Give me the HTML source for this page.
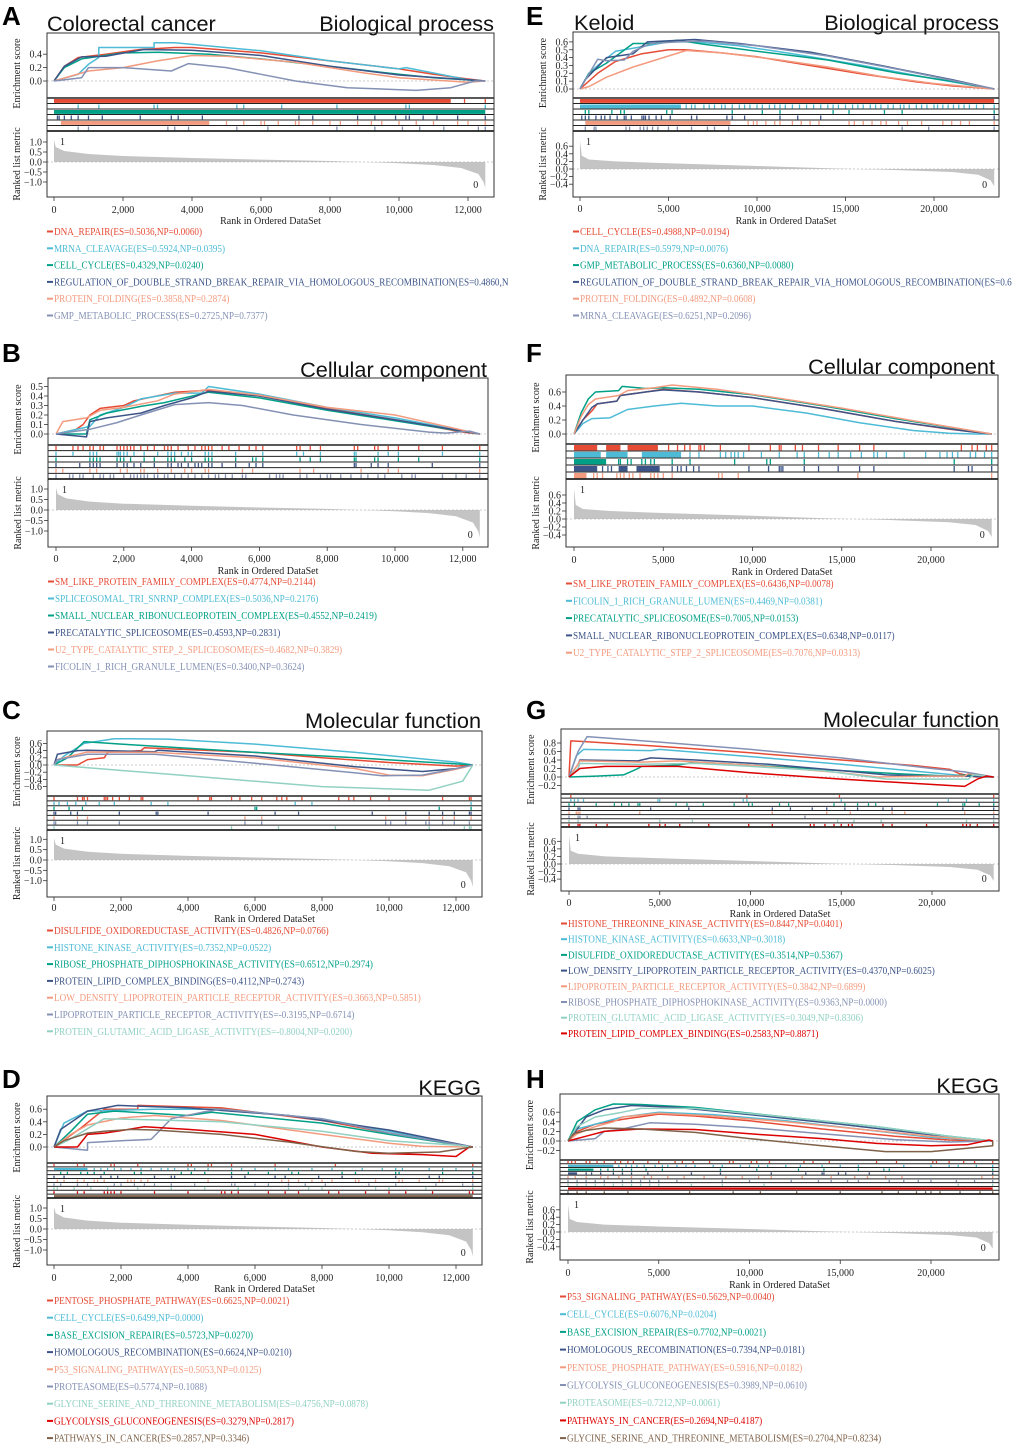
<!DOCTYPE html>
<html><head><meta charset="utf-8"><style>
html,body{margin:0;padding:0;background:#fff;}
svg{display:block;}
.tk{font-family:"Liberation Serif",serif;font-size:10px;fill:#222;}
.ttl{font-family:"Liberation Sans",sans-serif;font-size:21.7px;fill:#111;}
.let{font-family:"Liberation Sans",sans-serif;font-size:26px;font-weight:bold;fill:#000;}
.leg{font-family:"Liberation Serif",serif;font-size:10px;}
</style></head><body>
<svg id="chart" width="1020" height="1448" viewBox="0 0 1020 1448" xmlns="http://www.w3.org/2000/svg"></svg>
<script>
const COLORS=['#e64b35','#4dbbd5','#00a087','#3c5488','#f39b7f','#8491b4','#91d1c2','#dc0000','#7e6148'];

/* ---------- Panel A data ---------- */
const A_names=['DNA_REPAIR(ES=0.5036,NP=0.0060)','MRNA_CLEAVAGE(ES=0.5924,NP=0.0395)','CELL_CYCLE(ES=0.4329,NP=0.0240)','REGULATION_OF_DOUBLE_STRAND_BREAK_REPAIR_VIA_HOMOLOGOUS_RECOMBINATION(ES=0.4860,N','PROTEIN_FOLDING(ES=0.3858,NP=0.2874)','GMP_METABOLIC_PROCESS(ES=0.2725,NP=0.7377)'];
const A_es=[
[[0,0],[0.3,0.22],[0.7,0.35],[1.5,0.4],[2.5,0.47],[3.5,0.5],[4,0.5],[6,0.42],[8,0.3],[10,0.18],[11,0.1],[12,0.03],[12.5,0]],
[[0,0],[0.7,0.1],[1,0.25],[1.3,0.35],[1.3,0.5],[2.9,0.5],[2.9,0.57],[3.5,0.57],[6,0.45],[8,0.3],[10,0.18],[10.2,0.2],[12,0.02],[12.5,0]],
[[0,0],[0.3,0.2],[0.8,0.33],[2,0.42],[3,0.43],[4.5,0.4],[6,0.33],[8,0.22],[10,0.1],[11,0.05],[12.5,0]],
[[0,0],[0.3,0.22],[0.8,0.36],[1.5,0.37],[2.6,0.47],[4,0.46],[6,0.38],[8,0.22],[10,0.09],[10.5,0.07],[12,0.02],[12.5,0]],
[[0,0],[1,0.15],[2,0.2],[3,0.3],[4,0.38],[5,0.37],[7,0.28],[9,0.12],[10,0.05],[12,-0.02],[12.5,0]],
[[0,0],[0.8,0.05],[1,0.2],[2,0.2],[3.4,0.15],[3.9,0.26],[5,0.2],[6,0.1],[7,0],[8.5,-0.1],[10.5,-0.14],[11.5,-0.1],[12.2,0],[12.5,0]]];
const A_hits=[
{b:[[0,11.5]],t:[11.9,12.5]},
{t:[0.7,1.3,2.9,3.0,5.3,5.5,6.6,8.2,10.2,10.3,12.5]},
{b:[[0,12.5]]},
{t:[0.1,0.15,0.3,0.5,0.7,1.0,1.4,2.5,3.4,3.6,4.3,7.1,7.5,8.8,9.3,9.9,10.2,10.3,10.7,11.1,11.7,12.5]},
{b:[[0.2,4.5]],t:[5,5.5,6,6.1,6.5,7,7.1,7.5,8,8.3,8.8,9.2,9.5,10,10.5,11,11.7,12,12.5]},
{t:[0.7,1.0,3.3,3.5,3.9,5.3,6.2,8.2,9.3,10.1,10.6,11.3,12.3,12.5]}];
const A_metric=[[0,1.1],[0.05,0.75],[0.3,0.55],[1,0.4],[2,0.3],[4,0.2],[6,0.12],[8,0.05],[9,0],[10,-0.06],[11,-0.15],[11.8,-0.3],[12.3,-0.6],[12.45,-1.0],[12.5,-1.3]];
const A_esTicks=[0,0.2,0.4];
const A_mTicks=[1,0.5,0,-0.5,-1];
const A_xTicks=[0,2,4,6,8,10,12];

/* ---------- Panel E data ---------- */
const E_names=['CELL_CYCLE(ES=0.4988,NP=0.0194)','DNA_REPAIR(ES=0.5979,NP=0.0076)','GMP_METABOLIC_PROCESS(ES=0.6360,NP=0.0080)','REGULATION_OF_DOUBLE_STRAND_BREAK_REPAIR_VIA_HOMOLOGOUS_RECOMBINATION(ES=0.6','PROTEIN_FOLDING(ES=0.4892,NP=0.0608)','MRNA_CLEAVAGE(ES=0.6251,NP=0.2096)'];
const E_es=[
[[0,0],[1,0.2],[2,0.35],[3.5,0.45],[5,0.5],[6,0.5],[8,0.46],[10,0.41],[13,0.3],[16,0.19],[19,0.09],[21,0.04],[23.4,0]],
[[0,0],[0.5,0.2],[1,0.3],[2,0.48],[3,0.52],[5,0.6],[6.5,0.6],[9,0.55],[12,0.45],[16,0.3],[20,0.13],[23.4,0]],
[[0,0],[0.5,0.2],[1.5,0.33],[3,0.58],[4,0.58],[5.5,0.62],[7,0.57],[10,0.48],[14,0.37],[18,0.2],[21,0.1],[23.4,0]],
[[0,0],[0.3,0.12],[1.5,0.4],[3,0.45],[3.8,0.6],[6.5,0.63],[9,0.58],[13,0.47],[17,0.3],[21,0.12],[23.4,0]],
[[0,0],[0.5,0.03],[1.5,0.15],[3,0.28],[4,0.35],[5,0.42],[6,0.49],[8,0.46],[11,0.38],[14,0.28],[17,0.16],[20,0.07],[23.4,0]],
[[0,0],[1,0.38],[1.5,0.36],[2.5,0.37],[3,0.48],[4,0.58],[5.5,0.6],[7,0.61],[10,0.55],[14,0.42],[18,0.25],[23.4,0]]];
const E_hits=[
{b:[[0,23.4]]},
{b:[[0,5.7]],t:[6,6.3,6.5,7,7.3,7.6,8,8.2,8.6,9,9.3,9.6,10,10.3,10.7,11,11.3,11.6,12,12.4,12.8,13.2,13.6,14,14.3,14.6,15,15.4,15.7,16,16.4,16.7,17,17.4,17.7,18.1,18.3,18.6,19,19.3,19.6,20,20.2,20.5,20.8,21.1,21.4,21.7,22,22.4,22.8,23.4]},
{t:[0.3,0.5,1.8,2.3,2.5,4.9,5.2,8.6,10.3,11.3,14.3,15.2,17.2,18.2,23.4]},
{t:[0.1,0.3,0.5,0.9,1.2,1.4,1.7,2.1,2.5,2.6,2.9,3.5,3.6,3.7,3.9,4.3,4.6,5.1,6.3,6.6,8.3,8.6,9.3,11.3,12.3,13.6,23.4]},
{b:[[0.3,8.5]],t:[9.5,9.8,10,10.5,11,11.3,12,12.5,13,13.5,15.2,15.5,16,16.5,17,17.3,18,18.5,19.3,20.5,21,21.5,22,23.4]},
{t:[0.3,0.8,0.9,2.6,2.8,3.4,3.6,3.8,4.1,4.4,5,5.5,6.3,7.2,7.6,8.4,18.2,19.7,23.4]}];
const E_metric=[[0,0.75],[0.1,0.35],[0.5,0.25],[2,0.2],[5,0.15],[10,0.08],[14,0.02],[18,-0.03],[21,-0.08],[22.5,-0.15],[23.2,-0.3],[23.4,-0.45]];
const E_esTicks=[0,0.1,0.2,0.3,0.4,0.5,0.6];
const E_mTicks=[0.6,0.4,0.2,0,-0.2,-0.4];
const E_xTicks=[0,5,10,15,20];

/* ---------- Panel B data ---------- */
const B_names=['SM_LIKE_PROTEIN_FAMILY_COMPLEX(ES=0.4774,NP=0.2144)','SPLICEOSOMAL_TRI_SNRNP_COMPLEX(ES=0.5036,NP=0.2176)','SMALL_NUCLEAR_RIBONUCLEOPROTEIN_COMPLEX(ES=0.4552,NP=0.2419)','PRECATALYTIC_SPLICEOSOME(ES=0.4593,NP=0.2831)','U2_TYPE_CATALYTIC_STEP_2_SPLICEOSOME(ES=0.4682,NP=0.3829)','FICOLIN_1_RICH_GRANULE_LUMEN(ES=0.3400,NP=0.3624)'];
const B_es=[
[[0,0],[0.6,0.05],[0.8,0.1],[1,0.2],[1.3,0.27],[2,0.3],[2.3,0.35],[3.5,0.44],[4.5,0.46],[6,0.4],[8,0.27],[10,0.15],[12,0.02],[12.5,0]],
[[0,0],[1,0.08],[1.3,0.2],[2,0.28],[2.5,0.37],[3.5,0.43],[4.3,0.43],[4.5,0.5],[6,0.42],[8,0.28],[10,0.17],[12.5,0]],
[[0,0],[0.9,0],[1,0.15],[1.5,0.22],[2.5,0.29],[3.2,0.33],[4.5,0.44],[6,0.38],[8,0.25],[10,0.14],[12.5,0]],
[[0,0],[0.9,-0.03],[1,0.13],[1.5,0.17],[2.5,0.22],[3.2,0.3],[4,0.38],[4.5,0.45],[6,0.4],[8,0.26],[10,0.15],[12.5,0]],
[[0,0],[0.2,0.13],[0.9,0.17],[1.3,0.25],[2,0.28],[3,0.35],[3.5,0.42],[4.5,0.47],[6,0.41],[8,0.28],[10,0.2],[12,0.04],[12.5,0]],
[[0,0],[1,0.05],[1.8,0.12],[2.5,0.2],[3.5,0.31],[4.5,0.33],[5.5,0.3],[7,0.2],[9,0.1],[11,0.02],[11.5,0.01],[12.2,0.03],[12.5,0]]];
const B_hits=[
{t:[0,0.5,0.65,0.8,1,1.1,1.3,1.4,1.8,1.9,2,2.1,2.2,2.3,2.5,2.7,2.9,3.2,3.3,3.4,3.6,3.9,4.1,4.3,4.4,4.5,4.6,4.9,5.1,5.4,5.7,5.9,6.1,7.1,7.2,7.5,7.8,8.8,8.9,9.4,9.5,9.8,10.1,10.7,11.4,12.5]},
{t:[0,0.5,1,1.1,1.2,1.8,1.85,1.9,2,2.1,2.3,2.6,3.0,3.3,3.4,3.5,3.7,3.9,4,4.4,4.5,4.6,5.3,6.1,7.1,7.3,7.8,8.8,8.85,9.5,9.8,10.1,11.4,12.5]},
{t:[0,1,1.1,1.2,1.3,1.8,1.9,2,2.2,2.6,2.9,3.3,3.4,3.5,3.8,4,4.4,4.5,4.6,5.3,5.8,5.9,6.1,7.2,7.5,7.8,8.8,8.85,9.4,9.5,10.1,10.7,12.5]},
{t:[0,0.7,1,1.1,1.2,1.3,1.8,2,2.1,2.3,2.5,2.9,3.3,3.4,3.6,3.7,3.9,4.1,4.2,4.3,4.5,4.6,4.9,5.3,5.7,5.9,6.1,8.8,8.85,9.3,9.5,9.8,11.1,12.5]},
{t:[0,0.2,1,1.2,1.9,2.1,2.5,2.6,3,3.4,3.8,4,4.4,4.5,5.5,5.8,7.2,7.6,9,9.8,10.1,12.5]},
{t:[0,0.4,0.5,0.7,0.8,1.1,1.3,1.4,1.6,1.7,2,2.2,2.3,2.4,2.5,2.6,2.7,2.9,3,3.2,3.3,3.5,3.7,3.9,4.1,4.3,4.5,4.7,4.8,5,5.2,5.5,5.6,6.3,6.5,6.6,6.7,7.2,7.4,7.8,8,8.1,8.4,8.7,9,9.2,9.5,9.7,10.2,10.5,10.6,11.4,11.8,12.1,12.5]}];
const B_metric=[[0,1.05],[0.05,0.75],[0.3,0.55],[1,0.4],[2,0.3],[4,0.2],[6,0.12],[8,0.05],[9,0],[10,-0.06],[11,-0.15],[11.8,-0.3],[12.3,-0.6],[12.45,-1.0],[12.5,-1.3]];
const B_esTicks=[0,0.1,0.2,0.3,0.4,0.5];
const B_mTicks=[1,0.5,0,-0.5,-1];
const B_xTicks=[0,2,4,6,8,10,12];

/* ---------- Panel F data ---------- */
const F_names=['SM_LIKE_PROTEIN_FAMILY_COMPLEX(ES=0.6436,NP=0.0078)','FICOLIN_1_RICH_GRANULE_LUMEN(ES=0.4469,NP=0.0381)','PRECATALYTIC_SPLICEOSOME(ES=0.7005,NP=0.0153)','SMALL_NUCLEAR_RIBONUCLEOPROTEIN_COMPLEX(ES=0.6348,NP=0.0117)','U2_TYPE_CATALYTIC_STEP_2_SPLICEOSOME(ES=0.7076,NP=0.0313)'];
const F_es=[
[[0,0],[0.5,0.2],[1,0.33],[1.3,0.43],[2.4,0.47],[2.6,0.55],[4,0.6],[5,0.64],[7,0.6],[10,0.52],[14,0.36],[18,0.18],[21,0.07],[23.4,0]],
[[0,0],[0.5,0.15],[1,0.22],[2,0.23],[3,0.35],[4.5,0.4],[6,0.44],[8,0.4],[10,0.4],[13,0.3],[16,0.16],[19,0.05],[21,0.01],[22.5,0],[23.4,0]],
[[0,0],[0.4,0.3],[0.8,0.5],[1.2,0.6],[2.5,0.62],[2.7,0.68],[4,0.65],[5,0.66],[7,0.64],[10,0.56],[14,0.4],[18,0.22],[23.4,0]],
[[0,0],[0.5,0.2],[1,0.38],[1.3,0.43],[2.4,0.47],[2.6,0.55],[4,0.6],[5,0.63],[7,0.6],[10,0.52],[14,0.36],[18,0.18],[22,0.04],[23.4,0]],
[[0,0],[0.4,0.25],[0.8,0.42],[1.2,0.5],[2.5,0.55],[3,0.62],[4.5,0.66],[5.5,0.7],[8,0.64],[11,0.53],[15,0.37],[19,0.19],[23.4,0]]];
const F_hits=[
{b:[[0,1.3],[1.8,2.6],[3,4.7]],t:[5.3,5.8,6.2,6.5,7,7.1,7.3,8.2,9.8,11,11.5,11.6,12.4,12.8,13.7,14.8,16,16.8,21.7,22.3,22.6,23.1,23.4]},
{b:[[0,1.5],[1.8,3],[3.8,6]],t:[6.5,7,8.2,8.5,8.8,9,9.2,9.5,10.5,11.5,12.5,12.9,13.7,14.3,14.8,15.5,16.1,16.8,17,17.5,18.5,19.7,20.5,20.9,21.2,21.5,22.2,22.5,23,23.4]},
{b:[[0,1.8]],t:[2.5,2.6,3,3.2,3.8,4,4.3,4.5,5.5,6.5,9,10.8,11,12.9,21.3,23.4]},
{b:[[0,1.3],[2.5,3.0],[3.5,4.8]],t:[1.6,1.9,2.1,5.5,5.8,6,6.3,6.7,7,9.8,10.9,11.5,11.6,11.7,12.9,13.7,14.8,16,16.8,21.3,22.1,22.3,23.4]},
{b:[[0,0.7]],t:[1.1,1.3,1.6,2.4,2.6,2.8,3.1,3.3,3.7,4.3,4.5,4.7,5,5.5,8.1,8.3,9.2,15.9,23.4]}];
const F_metric=[[0,0.75],[0.1,0.35],[0.5,0.25],[2,0.2],[5,0.15],[10,0.08],[14,0.02],[18,-0.03],[21,-0.08],[22.5,-0.15],[23.2,-0.3],[23.4,-0.45]];
const F_esTicks=[0,0.2,0.4,0.6];
const F_mTicks=[0.6,0.4,0.2,0,-0.2,-0.4];
const F_xTicks=[0,5,10,15,20];

/* ---------- Panel C data ---------- */
const C_names=['DISULFIDE_OXIDOREDUCTASE_ACTIVITY(ES=0.4826,NP=0.0766)','HISTONE_KINASE_ACTIVITY(ES=0.7352,NP=0.0522)','RIBOSE_PHOSPHATE_DIPHOSPHOKINASE_ACTIVITY(ES=0.6512,NP=0.2974)','PROTEIN_LIPID_COMPLEX_BINDING(ES=0.4112,NP=0.2743)','LOW_DENSITY_LIPOPROTEIN_PARTICLE_RECEPTOR_ACTIVITY(ES=0.3663,NP=0.5851)','LIPOPROTEIN_PARTICLE_RECEPTOR_ACTIVITY(ES=-0.3195,NP=0.6714)','PROTEIN_GLUTAMIC_ACID_LIGASE_ACTIVITY(ES=-0.8004,NP=0.0200)'];
const C_es=[
[[0,0],[0.7,0],[1,0.15],[1.5,0.2],[1.6,0.35],[2.6,0.4],[2.7,0.48],[6,0.35],[8,0.2],[10,0.07],[12,-0.03],[12.5,0]],
[[0,0],[0.3,0.25],[0.9,0.6],[1.8,0.73],[3.4,0.72],[6,0.58],[9,0.35],[12,0.08],[12.5,0]],
[[0,0],[0.4,0.2],[0.9,0.65],[2,0.58],[6,0.35],[9,0.2],[12.2,0.02],[12.5,0]],
[[0,0],[0.1,0.3],[0.7,0.4],[1,0.41],[3,0.37],[3.1,0.41],[6,0.25],[9,-0.05],[11,-0.18],[12,-0.1],[12.5,0]],
[[0,0],[0.1,0.15],[0.5,0.25],[1,0.36],[3,0.35],[6,0.2],[9,-0.1],[10,-0.28],[11,-0.3],[12,-0.12],[12.5,0]],
[[0,0],[0.1,0.15],[1,0.3],[3,0.3],[6,0.05],[9,-0.22],[9.8,-0.3],[11,-0.28],[12,-0.1],[12.5,0]],
[[0,0],[4,-0.3],[8,-0.6],[11.2,-0.7],[12.2,-0.45],[12.5,0]]];
const C_hits=[
{t:[0,0.7,0.85,0.9,1,1.5,1.55,1.6,1.75,1.95,2.25,2.6,2.65,4.3,4.65,4.7,5.3,5.55,5.9,6.2,6.65,6.8,6.95,7.4,8.5,8.8,8.95,9.45,10,11.6,12.4,12.45]},
{t:[0,0.15,0.4,0.65,0.95,1.35,1.8,2.9,3.4,7.2,7.7,12.45]},
{t:[0,0.45,0.85,6.0,6.05,11.5,12.45]},
{t:[0,0.05,0.5,0.7,1.95,3.05,3.1,4.6,6.6,7.3,9.5,10.5,11.2,11.6,11.95,12.4,12.45]},
{t:[0,0.7,1.0,5.7,6.2,9.9,10.5,11.2,11.6,11.95,12.45]},
{t:[0,0.05,0.7,1.0,1.95,5.7,6.2,9.9,10.05,10.5,11.1,11.2,11.6,11.95,12.4]},
{t:[0,5.3,6.7,8.4,11.2,12.25,12.4,12.45]}];
const C_metric=[[0,1.05],[0.05,0.75],[0.3,0.55],[1,0.4],[2,0.3],[4,0.2],[6,0.12],[8,0.05],[9,0],[10,-0.06],[11,-0.15],[11.8,-0.3],[12.3,-0.6],[12.45,-1.0],[12.5,-1.3]];
const C_esTicks=[-0.6,-0.4,-0.2,0,0.2,0.4,0.6];
const C_mTicks=[1,0.5,0,-0.5,-1];
const C_xTicks=[0,2,4,6,8,10,12];

/* ---------- Panel G data ---------- */
const G_names=['HISTONE_THREONINE_KINASE_ACTIVITY(ES=0.8447,NP=0.0401)','HISTONE_KINASE_ACTIVITY(ES=0.6633,NP=0.3018)','DISULFIDE_OXIDOREDUCTASE_ACTIVITY(ES=0.3514,NP=0.5367)','LOW_DENSITY_LIPOPROTEIN_PARTICLE_RECEPTOR_ACTIVITY(ES=0.4370,NP=0.6025)','LIPOPROTEIN_PARTICLE_RECEPTOR_ACTIVITY(ES=0.3842,NP=0.6899)','RIBOSE_PHOSPHATE_DIPHOSPHOKINASE_ACTIVITY(ES=0.9363,NP=0.0000)','PROTEIN_GLUTAMIC_ACID_LIGASE_ACTIVITY(ES=0.3049,NP=0.8306)','PROTEIN_LIPID_COMPLEX_BINDING(ES=0.2583,NP=0.8871)'];
const G_es=[
[[0,0],[0.1,0.85],[1,0.83],[5,0.72],[10,0.57],[15,0.4],[19,0.27],[21,0.18],[21.5,0.08],[22.4,0],[23.4,0]],
[[0,0],[0.4,0.5],[0.8,0.65],[4.5,0.62],[5,0.65],[10,0.48],[15,0.3],[20,0.1],[22,0.02],[23.4,0]],
[[0,0],[1.5,0.02],[3,0.05],[3.8,0.2],[4,0.25],[6,0.28],[7,0.35],[10,0.28],[15,0.15],[18,0.08],[21,0.02],[22,0.05],[23.4,0]],
[[0,0],[0.5,0.3],[0.6,0.4],[3.8,0.38],[4.5,0.45],[7,0.4],[11,0.3],[15,0.15],[17.5,0.05],[20,0.02],[22,0.02],[23.4,0]],
[[0,0],[0.5,0.3],[0.6,0.38],[4,0.35],[6,0.38],[10,0.28],[15,0.1],[17,0],[20,0.02],[21.8,0.02],[22,0.08],[23.4,0]],
[[0,0],[0.5,0.6],[1,0.95],[5,0.82],[10,0.65],[15,0.45],[20,0.2],[21.8,0.12],[23.4,0]],
[[0,0],[0.5,0.2],[0.6,0.32],[4,0.3],[7,0.32],[10,0.25],[14,0.15],[17.5,-0.05],[22,-0.05],[22.3,0.05],[23.4,0]],
[[0,0],[0.6,0.2],[2,0.25],[3,0.25],[6,0.25],[10,0.1],[15,-0.05],[19,-0.15],[21.8,-0.22],[22.5,-0.05],[23,0.02],[23.4,0]]];
const G_hits=[
{t:[0.1,9.8,14.9,23.4]},
{t:[0.1,0.3,0.5,0.8,4.9,5,9.6,9.8,15,20.9,21.9,23.4]},
{t:[0,0.3,1.5,2.5,2.9,3.3,3.8,3.9,5.9,6.5,7.4,9.1,9.9,10.1,11.6,12.1,14.6,15.2,15.9,16.5,16.9,20.3,21.7,21.8,22.6,23.4]},
{t:[0,0.5,0.6,4.5,6.6,11.2,12.2,13.4,14.2,15.2,15.9,17.3,17.8,21.7,23.4]},
{t:[0,0.4,0.5,0.6,3.9,11.2,14.2,15.5,17.8,18.5,21.8,23.4]},
{t:[0,0.5,0.6,1,13,23.4]},
{t:[0,0.5,5,6.8,14.8,15.7,17.2,21.9,23.4]},
{t:[0,0.5,0.6,1.5,2.1,4.4,5,5.3,6.1,7.7,9.9,11.2,13.3,13.5,14.1,14.6,15,15.4,15.6,17.3,17.8,19.7,21.7,21.9,22.1,22.5,23.4]}];
const G_metric=[[0,0.75],[0.1,0.35],[0.5,0.27],[2,0.2],[5,0.15],[10,0.08],[14,0.02],[18,-0.03],[21,-0.08],[22.5,-0.15],[23.2,-0.3],[23.4,-0.45]];
const G_esTicks=[-0.2,0,0.2,0.4,0.6,0.8];
const G_mTicks=[0.6,0.4,0.2,0,-0.2,-0.4];
const G_xTicks=[0,5,10,15,20];

/* ---------- Panel D data ---------- */
const D_names=['PENTOSE_PHOSPHATE_PATHWAY(ES=0.6625,NP=0.0021)','CELL_CYCLE(ES=0.6499,NP=0.0000)','BASE_EXCISION_REPAIR(ES=0.5723,NP=0.0270)','HOMOLOGOUS_RECOMBINATION(ES=0.6624,NP=0.0210)','P53_SIGNALING_PATHWAY(ES=0.5053,NP=0.0125)','PROTEASOME(ES=0.5774,NP=0.1088)','GLYCINE_SERINE_AND_THREONINE_METABOLISM(ES=0.4756,NP=0.0878)','GLYCOLYSIS_GLUCONEOGENESIS(ES=0.3279,NP=0.2817)','PATHWAYS_IN_CANCER(ES=0.2857,NP=0.3346)'];
const D_es=[
[[0,0],[0.8,0.3],[1.5,0.6],[2.5,0.6],[2.5,0.66],[5,0.62],[8,0.42],[10,0.22],[12,0.05],[12.5,0]],
[[0,0],[0.3,0.38],[1,0.57],[3,0.6],[5,0.6],[8,0.45],[10,0.25],[12,0.05],[12.5,0]],
[[0,0],[0.5,0.25],[1,0.52],[1.8,0.57],[4,0.5],[4.7,0.55],[8,0.38],[10,0.2],[12,0.04],[12.5,0]],
[[0,0],[0.2,0.28],[1,0.57],[1.9,0.66],[4,0.62],[7,0.5],[10,0.27],[12.5,0]],
[[0,0],[0.5,0.2],[1,0.35],[2,0.46],[3,0.5],[5,0.42],[8,0.2],[10,0.06],[11,0.01],[12.5,0]],
[[0,0],[1,-0.05],[1,0.07],[2,0.1],[2.9,0.12],[3.5,0.45],[4.5,0.56],[5,0.6],[8,0.45],[10,0.22],[12.5,0]],
[[0,0],[0.4,0.1],[1.5,0.45],[3,0.43],[5,0.4],[8,0.25],[10,0.1],[12,0.03],[12.5,0]],
[[0,0],[0.7,0],[1,0.2],[1.5,0.22],[2,0.26],[2.7,0.32],[4,0.28],[6,0.2],[8,0],[9.5,-0.1],[11,-0.12],[12,-0.15],[12.4,0],[12.5,0]],
[[0,0],[0.3,0.1],[1,0.22],[1.5,0.25],[2.3,0.28],[3,0.27],[5,0.2],[7,0.08],[9,-0.07],[10,-0.1],[11.5,-0.08],[12.5,0]]];
const D_hits=[
{t:[0,0.7,0.9,1.7,1.8,2.5,4,4.1,4.6,4.7,5.3,6.6,8.4,12.5]},
{b:[[0,1.0]],t:[1.2,1.4,1.6,1.8,2,2.3,2.6,2.9,3.2,3.4,3.6,4,4.2,4.6,5.3,5.6,6,6.6,7,7.7,8.3,9.2,9.8,10.2,10.4,11.2,11.6,12,12.5]},
{t:[0.2,0.4,0.8,1,1.2,1.5,2.4,2.6,3.8,4.1,4.5,5.3,5.8,6.4,7.1,7.3,8.6,9,10.2,10.3,11.6,12.5]},
{t:[0,0.3,1.4,1.7,1.9,3,3.5,3.6,5.3,5.7,6.6,6.9,7.9,8.6,10.2,11.2,11.5,12.5]},
{t:[0.1,0.3,0.7,0.9,1.2,1.3,1.5,2.2,2.3,2.4,2.6,2.8,4.6,6.8,7,7.3,7.7,8,8.3,9,9.1,9.6,10.3,10.4,10.9,11.5,11.6,12.5]},
{t:[0,0.2,0.7,1,1.8,2,2.4,2.7,3,3.5,4.2,5.3,5.4,6,6.4,7,7.5,8.1,9.4,10.2,11.4,12.2,12.5]},
{t:[0,0.1,0.6,1.1,1.6,2.5,3.5,4.5,5.5,7,7.6,8,9.6,10,11.1,12.5]},
{t:[0,0.7,0.9,1.5,1.6,1.7,1.8,2,3,4,5,5.1,5.3,5.5,6.4,6.9,7.3,8.2,8.5,9.3,10,10.5,11.3,12.4,12.5]},
{b:[[0,12.5]]}];
const D_metric=[[0,1.05],[0.05,0.75],[0.3,0.55],[1,0.4],[2,0.3],[4,0.2],[6,0.12],[8,0.05],[9,0],[10,-0.06],[11,-0.15],[11.8,-0.3],[12.3,-0.6],[12.45,-1.0],[12.5,-1.3]];
const D_esTicks=[0,0.2,0.4,0.6];
const D_mTicks=[1,0.5,0,-0.5,-1];
const D_xTicks=[0,2,4,6,8,10,12];

/* ---------- Panel H data ---------- */
const H_names=['P53_SIGNALING_PATHWAY(ES=0.5629,NP=0.0040)','CELL_CYCLE(ES=0.6076,NP=0.0204)','BASE_EXCISION_REPAIR(ES=0.7702,NP=0.0021)','HOMOLOGOUS_RECOMBINATION(ES=0.7394,NP=0.0181)','PENTOSE_PHOSPHATE_PATHWAY(ES=0.5916,NP=0.0182)','GLYCOLYSIS_GLUCONEOGENESIS(ES=0.3989,NP=0.0610)','PROTEASOME(ES=0.7212,NP=0.0061)','PATHWAYS_IN_CANCER(ES=0.2694,NP=0.4187)','GLYCINE_SERINE_AND_THREONINE_METABOLISM(ES=0.2704,NP=0.8234)'];
const H_es=[
[[0,0],[0.5,0.2],[1.5,0.35],[3,0.45],[5,0.56],[7,0.52],[10,0.42],[14,0.25],[18,0.1],[21,0.02],[23.4,0]],
[[0,0],[0.5,0.25],[1.5,0.35],[3,0.5],[5,0.6],[8,0.55],[12,0.42],[16,0.25],[20,0.08],[23.4,0]],
[[0,0],[0.5,0.4],[1.5,0.65],[2.5,0.77],[4,0.76],[7,0.7],[12,0.5],[17,0.3],[21,0.1],[23.4,0]],
[[0,0],[0.5,0.25],[1,0.5],[2,0.65],[3.5,0.74],[6,0.7],[10,0.55],[15,0.35],[20,0.13],[23.4,0]],
[[0,0],[0.5,0.15],[1.5,0.3],[2.5,0.4],[3,0.5],[5,0.58],[8,0.52],[12,0.4],[16,0.25],[20,0.1],[23.4,0]],
[[0,0],[1.5,0.05],[2,0.2],[3,0.25],[4.5,0.38],[7,0.35],[10,0.28],[14,0.15],[18,0.03],[21,-0.02],[23.4,0]],
[[0,0],[0.5,0.3],[1.5,0.5],[3,0.6],[4,0.68],[7,0.68],[12,0.5],[17,0.3],[21,0.1],[23.4,0]],
[[0,0],[1,0.1],[2,0.2],[4,0.25],[7,0.24],[10,0.15],[14,0.05],[17,-0.05],[20,-0.1],[22,-0.08],[23.2,0.02],[23.4,0]],
[[0,0],[0.3,0.15],[1,0.22],[2,0.27],[4,0.25],[7,0.18],[10,0.05],[14,-0.1],[17.5,-0.22],[20,-0.22],[22,-0.15],[23.4,-0.1],[23.4,0]]];
const H_hits=[
{t:[0,0.2,0.4,1,1.2,1.6,2,2.6,2.9,3.3,3.6,4.4,5,5.9,6.3,6.9,7.8,8.9,9.1,10.1,10.4,11.1,13,13.5,14.4,17,18.1,20.1,20.3,21,21.8,22.4,23.4]},
{b:[[0,2.5]],t:[2.8,3.2,3.5,3.8,4.2,4.8,5.2,5.5,6,6.5,7,8,8.5,9.5,10,10.5,11,12,12.8,14,15,16,18.5,20,21,21.5,22.5,23.4]},
{b:[[0,1.4]],t:[1.8,2.2,2.5,3,3.5,4.3,5.2,8.4,10.4,12.7,14.1,16,17.4,17.7,23.4]},
{b:[[0,0.5]],t:[1,1.3,1.8,2.5,3,3.5,4.4,6.8,8.4,11.2,13.1,14,14.1,14.9,15.3,16.6,23.4]},
{t:[0,0.4,1,1.8,2.2,2.8,3.5,4.2,4.6,5.5,6.4,7.5,8.7,9.6,10.5,11.2,12.9,14.5,15.8,16.5,17.5,18.4,22.8,23.4]},
{t:[0,0.5,1,1.5,2,3,3.5,4,4.5,5,6,8.5,10,12.3,13.8,14.5,15.4,16,17.7,18.5,19.3,20,21.4,22.4,23.4]},
{t:[0,0.5,1,1.5,2,2.5,3,3.5,4,4.5,5,6.8,8.5,10.8,21.5,23.4]},
{b:[[0,23.4]]},
{t:[0,0.5,1,2,3.3,6.7,9.1,10.6,12.6,15,17.3,18.2,19.2,19.7,20,20.5,21.6,22.7,23.4]}];
const H_metric=[[0,0.75],[0.1,0.35],[0.5,0.27],[2,0.2],[5,0.15],[10,0.08],[14,0.02],[18,-0.03],[21,-0.08],[22.5,-0.15],[23.2,-0.3],[23.4,-0.45]];
const H_esTicks=[-0.2,0,0.2,0.4,0.6];
const H_mTicks=[0.6,0.4,0.2,0,-0.2,-0.4];
const H_xTicks=[0,5,10,15,20];

/* ---------- rendering ---------- */
const NS='http://www.w3.org/2000/svg';
const svg=document.getElementById('chart');
function mk(tag,attrs,parent){const e=document.createElementNS(NS,tag);for(const k in attrs)e.setAttribute(k,attrs[k]);(parent||svg).appendChild(e);return e;}
function fmtX(k){const v=Math.round(k*1000);return v.toLocaleString('en-US');}
function fmtY(v){const s=Math.abs(v).toFixed(1);return (v<0?'\u2212':'')+s;}

function drawPanel(id,G,names,es,hits,metric,esTicks,mTicks,xTicks){
  const g=mk('g',{});
  
  
  const X=k=>G.x0+k*G.xs;
  const YE=v=>G.ez-v*G.es;
  const YM=v=>G.mz-v*G.ms;
  const lt=mk('text',{x:G.lx,y:G.ly,class:'let'},g);lt.textContent=id;
  
  
  if(G.tl){const t=mk('text',{x:G.tlx,y:G.ty,class:'ttl'},g);t.textContent=G.tl;
    
    }
  const tr=mk('text',{x:G.trx,y:G.ty,class:'ttl','text-anchor':'end'},g);tr.textContent=G.tr;
  
  
  mk('line',{x1:G.L,x2:G.R,y1:YE(0),y2:YE(0),stroke:'#bbb','stroke-width':0.8,'stroke-dasharray':'2,2'},g);
  esTicks.forEach(v=>{
    mk('line',{x1:G.L-4,x2:G.L,y1:YE(v),y2:YE(v),stroke:'#333','stroke-width':0.8},g);
    const t=mk('text',{x:G.L-5,y:YE(v)+3.5,class:'tk','text-anchor':'end'},g);t.textContent=fmtY(v);
    
    
  });
  es.forEach((c,i)=>{
    const pl=mk('polyline',{points:c.map(p=>X(p[0]).toFixed(1)+','+YE(p[1]).toFixed(1)).join(' '),fill:'none',stroke:COLORS[i],'stroke-width':1.5,'stroke-linejoin':'round'},g);
    
    
  });
  const n=hits.length, rh=(G.H-G.E)/n;
  hits.forEach((h,i)=>{
    const y0=G.E+i*rh;
    (h.b||[]).forEach(b=>{const r=mk('rect',{x:X(b[0]),y:y0+1,width:X(b[1])-X(b[0]),height:rh-1.6,fill:COLORS[i]},g);
      
      });
    (h.t||[]).forEach(k=>{const l=mk('line',{x1:X(k),x2:X(k),y1:y0+1,y2:y0+rh-0.6,stroke:COLORS[i],'stroke-width':1.3},g);
      
      });
  });
  for(let i=0;i<=n;i++){mk('line',{x1:G.L,x2:G.R,y1:G.E+i*rh,y2:G.E+i*rh,stroke:'#222','stroke-width':i==0||i==n?1.4:1},g);}
  const pts=[[X(metric[0][0]),YM(0)]].concat(metric.map(p=>[X(p[0]),YM(p[1])])).concat([[X(metric[metric.length-1][0]),YM(0)]]);
  const mp=mk('polygon',{points:pts.map(p=>p[0].toFixed(1)+','+p[1].toFixed(1)).join(' '),fill:'#c4c4c4'},g);
  
  
  mk('line',{x1:G.L,x2:G.R,y1:YM(0),y2:YM(0),stroke:'#bbb','stroke-width':0.8,'stroke-dasharray':'2,2'},g);
  mTicks.forEach(v=>{
    mk('line',{x1:G.L-4,x2:G.L,y1:YM(v),y2:YM(v),stroke:'#333','stroke-width':0.8},g);
    const t=mk('text',{x:G.L-5,y:YM(v)+3.5,class:'tk','text-anchor':'end'},g);t.textContent=fmtY(v);
    
    
  });
  const one=mk('text',{x:G.x0+6,y:G.H+14,class:'tk'},g);one.textContent='1';
  
  
  const zero=mk('text',{x:X(metric[metric.length-1][0])-12,y:G.B-9,class:'tk'},g);zero.textContent='0';
  
  
  mk('rect',{x:G.L,y:G.T,width:G.R-G.L,height:G.B-G.T,fill:'none',stroke:'#333','stroke-width':1},g);
  mk('line',{x1:G.L,x2:G.R,y1:G.H,y2:G.H,stroke:'#222','stroke-width':1.4},g);
  xTicks.forEach(k=>{
    mk('line',{x1:X(k),x2:X(k),y1:G.B,y2:G.B+4,stroke:'#333','stroke-width':0.8},g);
    const t=mk('text',{x:X(k),y:G.tky,class:'tk','text-anchor':'middle'},g);t.textContent=fmtX(k);
    
    
  });
  const xt=mk('text',{x:(G.L+G.R)/2,y:G.rky,class:'tk','text-anchor':'middle'},g);xt.textContent='Rank in Ordered DataSet';
  
  
  const ey=(G.T+G.E)/2+8, my=(G.H+G.B)/2;
  const yt1=mk('text',{x:0,y:0,class:'tk','text-anchor':'middle',transform:'translate('+(G.L-27)+','+ey+') rotate(-90)'},g);yt1.textContent='Enrichment score';
  
  
  const yt2=mk('text',{x:0,y:0,class:'tk','text-anchor':'middle',transform:'translate('+(G.L-27)+','+my+') rotate(-90)'},g);yt2.textContent='Ranked list metric';
  
  
  names.forEach((nm,i)=>{
    const y=G.lgy+i*G.lgd;
    const d=mk('line',{x1:G.L,x2:G.L+6,y1:y-1.5,y2:y-1.5,stroke:COLORS[i],'stroke-width':2},g);
    
    
    const t=mk('text',{x:0,y:0,class:'leg',fill:COLORS[i],transform:'translate('+(G.L+7)+','+(y+2)+') scale(0.92,1)'},g);t.textContent=nm;
    
    
  });
}

drawPanel('A',{L:47,R:494,T:33,E:98,H:131,B:197,x0:54,xs:34.5,ez:81,es:67,mz:162,ms:20,tky:213,rky:224,lgy:233,lgd:16.8,lx:2,ly:25,tl:'Colorectal cancer',tlx:47,trx:494,tr:'Biological process',ty:31},A_names,A_es,A_hits,A_metric,A_esTicks,A_mTicks,A_xTicks);
drawPanel('E',{L:573,R:999,T:32,E:98,H:131,B:197,x0:580,xs:17.7,ez:89,es:78.5,mz:169,ms:38,tky:212,rky:224,lgy:233,lgd:16.8,lx:526,ly:25,tl:'Keloid',tlx:574,trx:999,tr:'Biological process',ty:30},E_names,E_es,E_hits,E_metric,E_esTicks,E_mTicks,E_xTicks);
drawPanel('B',{L:48,R:488,T:378,E:445,H:479,B:547,x0:56,xs:33.9,ez:434,es:95,mz:510,ms:21,tky:562,rky:574,lgy:583,lgd:17,lx:2,ly:362,trx:487,tr:'Cellular component',ty:377},B_names,B_es,B_hits,B_metric,B_esTicks,B_mTicks,B_xTicks);
drawPanel('F',{L:566,R:998,T:375,E:444,H:479,B:547,x0:574,xs:17.85,ez:434,es:70,mz:519,ms:40,tky:563,rky:575,lgy:585,lgd:17.3,lx:526,ly:362,trx:995,tr:'Cellular component',ty:374},F_names,F_es,F_hits,F_metric,F_esTicks,F_mTicks,F_xTicks);
drawPanel('C',{L:47,R:482,T:731,E:796,H:830,B:897,x0:54,xs:33.5,ez:765,es:36,mz:860,ms:20.7,tky:911,rky:922,lgy:932,lgd:16.8,lx:2,ly:719,trx:481,tr:'Molecular function',ty:728},C_names,C_es,C_hits,C_metric,C_esTicks,C_mTicks,C_xTicks);
drawPanel('G',{L:561,R:999,T:729,E:794,H:827,B:891,x0:569,xs:18.15,ez:777,es:42.5,mz:864,ms:37.8,tky:906,rky:917,lgy:925,lgd:15.7,lx:526,ly:719,trx:999,tr:'Molecular function',ty:727},G_names,G_es,G_hits,G_metric,G_esTicks,G_mTicks,G_xTicks);
drawPanel('D',{L:47,R:482,T:1096,E:1163,H:1198,B:1265,x0:54,xs:33.5,ez:1147,es:63,mz:1229,ms:21,tky:1281,rky:1292,lgy:1302,lgd:17.2,lx:2,ly:1088,trx:481,tr:'KEGG',ty:1095},D_names,D_es,D_hits,D_metric,D_esTicks,D_mTicks,D_xTicks);
drawPanel('H',{L:560,R:999,T:1094,E:1160,H:1194,B:1260,x0:568,xs:18.15,ez:1141,es:48,mz:1232,ms:37,tky:1276,rky:1288,lgy:1298,lgd:17.7,lx:526,ly:1088,trx:999,tr:'KEGG',ty:1093},H_names,H_es,H_hits,H_metric,H_esTicks,H_mTicks,H_xTicks);
</script>
</body></html>
